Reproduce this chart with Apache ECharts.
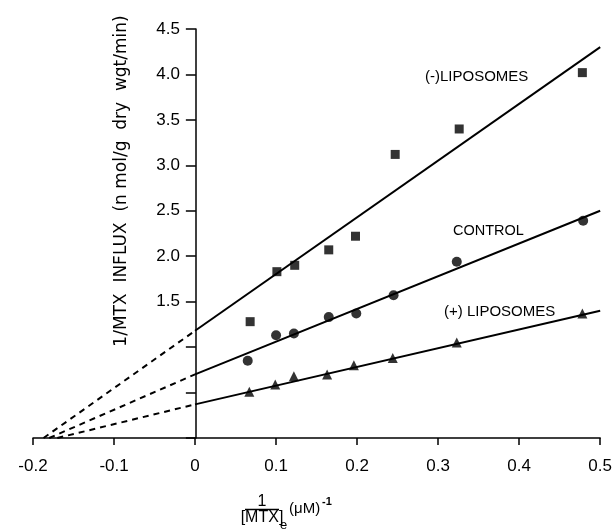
<!DOCTYPE html>
<html>
<head>
<meta charset="utf-8">
<script src="https://cdn.jsdelivr.net/npm/echarts@6/dist/echarts.min.js"></script>
<style>html,body{margin:0;padding:0;background:#fff}#c{width:615px;height:531px}</style>
</head>
<body>
<div id="c"></div>
<script>
// ---- data ----
const xMinus   = [0.068, 0.101, 0.123, 0.165, 0.198, 0.247, 0.326, 0.478];
const yMinus   = [1.28, 1.83, 1.90, 2.07, 2.22, 3.12, 3.40, 4.02];
const xControl = [0.065, 0.100, 0.122, 0.165, 0.199, 0.245, 0.323, 0.479];
const yControl = [0.85, 1.13, 1.15, 1.33, 1.37, 1.57, 1.94, 2.39];
const xPlus    = [0.067, 0.099, 0.122, 0.163, 0.196, 0.244, 0.323, 0.478];
const yPlus    = [0.51, 0.59, 0.68, 0.70, 0.80, 0.88, 1.05, 1.37];
// fitted lines: [y-intercept, value at x=0.5, x-intercept of the dashed extension]
const fitMinus   = [1.18, 4.30, -0.187];
const fitControl = [0.70, 2.50, -0.180];
const fitPlus    = [0.37, 1.40, -0.170];
const xTicks = [-0.2, -0.1, 0, 0.1, 0.2, 0.3, 0.4, 0.5];
const yTickLabels = ['', '', '', '1.5', '2.0', '2.5', '3.0', '3.5', '4.0', '4.5'];
const seriesNames = ['(-)LIPOSOMES', 'CONTROL', '(+) LIPOSOMES'];

const FONT = '"Liberation Sans", Arial, Helvetica, sans-serif';
const zip = (xs, ys) => xs.map((x, i) => [x, ys[i]]);

function fitSeries(fit) {
  return [
    { type: 'line', data: [[0, fit[0]], [0.5, fit[1]]], symbol: 'none', silent: true,
      lineStyle: { color: '#000', width: 2 }, z: 2 },
    { type: 'line', data: [[fit[2], 0], [0, fit[0]]], symbol: 'none', silent: true,
      lineStyle: { color: '#000', width: 2, type: [6, 5] }, z: 2 }
  ];
}
function scatter(name, xs, ys, symbol, size) {
  return { name, type: 'scatter', data: zip(xs, ys), symbol, symbolSize: size,
    itemStyle: { color: '#000' }, z: 3 };
}

const GRID_LEFT = 33, GRID_RIGHT = 12;
const plotW = 615 - GRID_LEFT - GRID_RIGHT;
// pixel offset that puts the y axis (line, ticks, labels) at x = 0
const yAxisOffset = -plotW * (0 - (-0.2)) / (0.5 - (-0.2));

const chart = echarts.init(document.getElementById('c'), null, { renderer: 'canvas' });
chart.setOption({
  animation: false,
  backgroundColor: '#fff',
  grid: { left: GRID_LEFT, right: GRID_RIGHT, top: 29, bottom: 93, containLabel: false },
  xAxis: {
    type: 'value', min: -0.2, max: 0.5, interval: 0.1,
    splitLine: { show: false },
    axisLine: { onZero: false, lineStyle: { color: '#000', width: 1.5 } },
    axisTick: { inside: false, length: 7, lineStyle: { color: '#000', width: 1.5 } },
    axisLabel: {
      color: '#000', fontFamily: FONT, fontSize: 17, margin: 20,
      formatter: v => { const t = xTicks.find(k => Math.abs(k - v) < 1e-6); return t === 0 ? '0' : (t !== undefined ? t.toFixed(1) : ''); }
    }
  },
  yAxis: {
    type: 'value', min: 0, max: 4.5, interval: 0.5,
    offset: yAxisOffset,
    splitLine: { show: false },
    axisLine: { onZero: false, lineStyle: { color: '#000', width: 1.5 } },
    axisTick: { inside: false, length: 10, lineStyle: { color: '#000', width: 1.5 } },
    axisLabel: {
      color: '#000', fontFamily: FONT, fontSize: 17, margin: 16,
      formatter: v => yTickLabels[Math.round(v / 0.5)] || ''
    }
  },
  series: [
    ...fitSeries(fitMinus), ...fitSeries(fitControl), ...fitSeries(fitPlus),
    scatter(seriesNames[0], xMinus, yMinus, 'rect', 9),
    scatter(seriesNames[1], xControl, yControl, 'circle', 10),
    scatter(seriesNames[2], xPlus, yPlus, 'triangle', 10)
  ],
  graphic: [
    { type: 'text', x: 425, y: 77, style: { text: seriesNames[0], font: '15px ' + FONT, fill: '#000', textVerticalAlign: 'middle' } },
    { type: 'text', x: 453, y: 231, style: { text: seriesNames[1], font: '14.5px ' + FONT, fill: '#000', textVerticalAlign: 'middle' } },
    { type: 'text', x: 444, y: 312, style: { text: seriesNames[2], font: '15px ' + FONT, fill: '#000', textVerticalAlign: 'middle' } },
    { type: 'text', x: 122, y: 181, rotation: Math.PI / 2,
      style: { text: '1/MTX  INFLUX  (n mol/g  dry  wgt/min)', font: '17px "DejaVu Sans", ' + FONT, fill: '#000', textAlign: 'center', textVerticalAlign: 'middle' } },
    { type: 'text', x: 262, y: 502, style: { text: '1', font: '16px ' + FONT, fill: '#000', textAlign: 'center', textVerticalAlign: 'middle' } },
    { type: 'line', shape: { x1: 245, y1: 509.5, x2: 279, y2: 509.5 }, style: { stroke: '#000', lineWidth: 1.5 } },
    { type: 'text', x: 262, y: 518, style: { text: '[MTX]', font: '16px ' + FONT, fill: '#000', textAlign: 'center', textVerticalAlign: 'middle' } },
    { type: 'text', x: 280, y: 525, style: { text: 'e', font: '13px ' + FONT, fill: '#000', textVerticalAlign: 'middle' } },
    { type: 'text', x: 289, y: 509, style: { text: '(μM)', font: '15px ' + FONT, fill: '#000', textVerticalAlign: 'middle' } },
    { type: 'text', x: 322, y: 502, style: { text: '-1', font: 'bold 11px ' + FONT, fill: '#000', textVerticalAlign: 'middle' } }
  ]
});
</script>
</body>
</html>
